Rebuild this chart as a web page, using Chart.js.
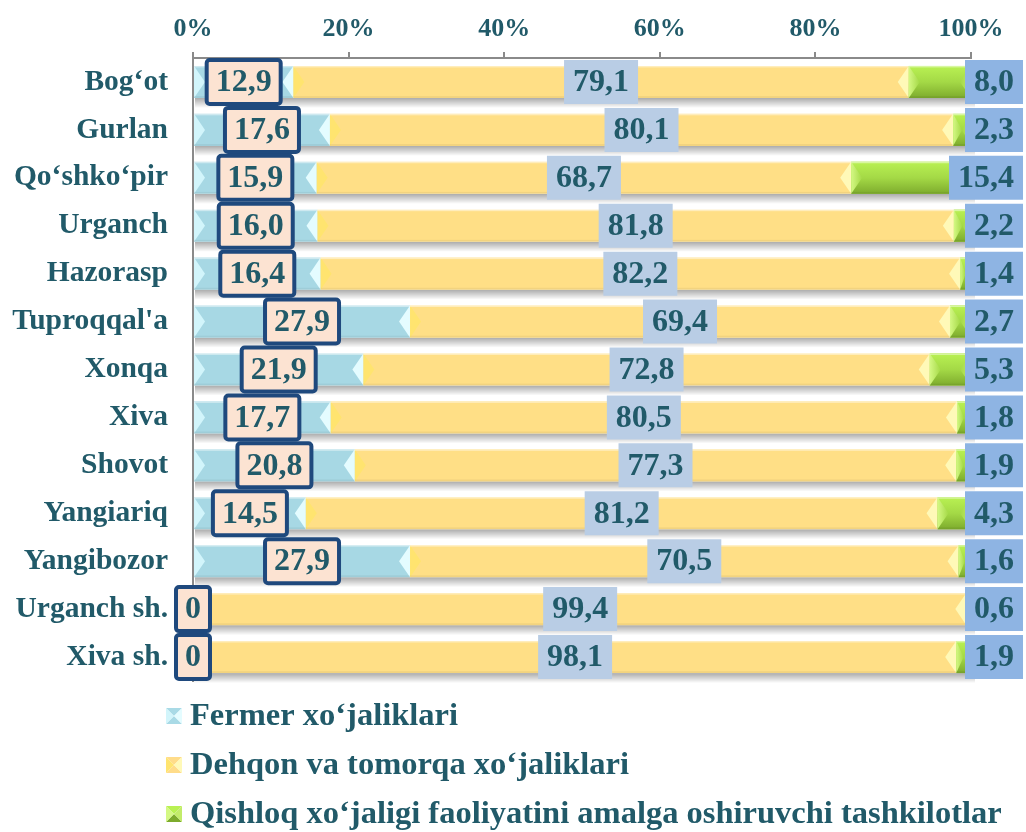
<!DOCTYPE html>
<html>
<head>
<meta charset="utf-8">
<script src="https://cdn.jsdelivr.net/npm/chart.js@4.4.1/dist/chart.umd.min.js"></script>
<style>
  html, body { margin: 0; padding: 0; background: #fff; }
  #wrap { width: 1026px; height: 832px; position: relative; }
</style>
</head>
<body>
<div id="wrap"><canvas id="chart"></canvas></div>
<script>
// Data
const categories = ['Bog‘ot', 'Gurlan', 'Qo‘shko‘pir', 'Urganch', 'Hazorasp', "Tuproqqal'a", 'Xonqa',
    'Xiva', 'Shovot', 'Yangiariq', 'Yangibozor', 'Urganch sh.', 'Xiva sh.'];
const fermer = [12.9, 17.6, 15.9, 16.0, 16.4, 27.9, 21.9, 17.7, 20.8, 14.5, 27.9, 0, 0];
const dehqon = [79.1, 80.1, 68.7, 81.8, 82.2, 69.4, 72.8, 80.5, 77.3, 81.2, 70.5, 99.4, 98.1];
const tashkilot = [8.0, 2.3, 15.4, 2.2, 1.4, 2.7, 5.3, 1.8, 1.9, 4.3, 1.6, 0.6, 1.9];
const seriesNames = ['Fermer xo‘jaliklari', 'Dehqon va tomorqa xo‘jaliklari',
    'Qishloq xo‘jaligi faoliyatini amalga oshiruvchi tashkilotlar'];
const tickStep = 20;

const FONT = '"Liberation Serif", "Times New Roman", serif';
const TEXT = '#215a69';
const AXIS = '#8a8a8a';

const palette = [
    { base: '#a7d8e4', left: '#d2f5fb', right: '#e4fcff', dark: '#a9dae6' },
    { base: '#ffdf86', left: '#ffe46f', right: '#fff9b8', dark: '#ffdc8a' },
    { base: '#a2d444', top: '#b9f153', mid: '#a4d946', bottom: '#7dab2d', left: '#d4f884', right: '#c2ec6a', dark: '#7dab2d' }
];
const labelFill = ['#fce3d2', '#b9cde5', '#8eb4e3'];

function fmt(v) {
    return v === 0 ? '0' : v.toFixed(1).replace('.', ',');
}

function tri(ctx, ax, ay, bx, by, cx, cy, fill) {
    ctx.beginPath();
    ctx.moveTo(ax, ay);
    ctx.lineTo(bx, by);
    ctx.lineTo(cx, cy);
    ctx.closePath();
    ctx.fillStyle = fill;
    ctx.fill();
}

// shadow under each bar + bevelled ends on every segment
const bevelPlugin = {
    id: 'bevel',
    beforeDatasetsDraw(chart) {
        const ctx = chart.ctx;
        const first = chart.getDatasetMeta(0);
        const last = chart.getDatasetMeta(chart.data.datasets.length - 1);
        ctx.save();
        first.data.forEach((bar, i) => {
            const a = bar.getProps(['base', 'y', 'height'], true);
            const b = last.data[i].getProps(['x'], true);
            const y1 = a.y + a.height / 2;
            const g = ctx.createLinearGradient(0, y1, 0, y1 + 10);
            g.addColorStop(0, 'rgba(0,0,0,0.33)');
            g.addColorStop(1, 'rgba(0,0,0,0)');
            ctx.fillStyle = g;
            ctx.fillRect(a.base + 1, y1, b.x - a.base + 3, 10);
        });
        ctx.restore();
    },
    afterDatasetsDraw(chart) {
        const ctx = chart.ctx;
        ctx.save();
        chart.data.datasets.forEach((ds, di) => {
            const pal = palette[di];
            chart.getDatasetMeta(di).data.forEach(bar => {
                const { x, base, y, height } = bar.getProps(['x', 'base', 'y', 'height'], true);
                const x0 = Math.min(x, base), x1 = Math.max(x, base);
                const w = x1 - x0;
                if (w <= 0.5) return;
                const y0 = y - height / 2, y1 = y + height / 2;
                if (pal.top) {
                    const g = ctx.createLinearGradient(0, y0, 0, y1);
                    g.addColorStop(0, pal.top);
                    g.addColorStop(0.5, pal.mid);
                    g.addColorStop(1, pal.bottom);
                    ctx.fillStyle = g;
                    ctx.fillRect(x0, y0, w, height);
                }
                const b = Math.min(11, w / 2);
                const gl = ctx.createLinearGradient(x0, 0, x0 + b, 0);
                gl.addColorStop(0, pal.left);
                gl.addColorStop(1, pal.top ? pal.mid : pal.left);
                tri(ctx, x0, y0, x0 + b, y, x0, y1, gl);
                const gr = ctx.createLinearGradient(x1, 0, x1 - b, 0);
                gr.addColorStop(0, pal.right);
                gr.addColorStop(1, pal.top ? pal.mid : pal.right);
                tri(ctx, x1, y0, x1 - b, y, x1, y1, gr);
                ctx.fillStyle = 'rgba(255,255,255,0.45)';
                ctx.fillRect(x0, y0, w, 1.5);
                ctx.fillStyle = 'rgba(0,0,0,0.05)';
                ctx.fillRect(x0, y1 - 2, w, 2);
            });
        });
        ctx.restore();
    }
};

// value labels in boxes
const labelPlugin = {
    id: 'segLabels',
    afterDatasetsDraw(chart) {
        const ctx = chart.ctx;
        ctx.save();
        ctx.font = 'bold 32px ' + FONT;
        ctx.textAlign = 'center';
        ctx.textBaseline = 'middle';
        chart.data.datasets.forEach((ds, di) => {
            chart.getDatasetMeta(di).data.forEach((bar, i) => {
                const { x, base, y } = bar.getProps(['x', 'base', 'y'], true);
                const txt = fmt(ds.data[i]);
                const w = ctx.measureText(txt).width + 18;
                const h = 44;
                let cx;
                if (di === 2) {
                    const left = Math.min(x - 6, chart.width - 3 - w);
                    cx = left + w / 2;
                } else {
                    cx = (x + base) / 2;
                }
                ctx.beginPath();
                if (di === 0) {
                    ctx.roundRect(cx - w / 2, y - h / 2, w, h, 3);
                    ctx.fillStyle = labelFill[di];
                    ctx.fill();
                    ctx.lineWidth = 4;
                    ctx.strokeStyle = '#1f497d';
                    ctx.stroke();
                } else {
                    ctx.rect(cx - w / 2, y - h / 2, w, h);
                    ctx.fillStyle = labelFill[di];
                    ctx.fill();
                }
                ctx.fillStyle = TEXT;
                ctx.fillText(txt, cx, y + 1);
            });
        });
        ctx.restore();
    }
};

// vertical legend under the plot
const legendPlugin = {
    id: 'sideLegend',
    afterDraw(chart) {
        const ctx = chart.ctx;
        const rowY = [716, 765, 814];
        ctx.save();
        ctx.font = 'bold 32.5px ' + FONT;
        ctx.textAlign = 'left';
        ctx.textBaseline = 'middle';
        seriesNames.forEach((name, i) => {
            const pal = palette[i];
            const cy = rowY[i], x0 = 166, s = 16, y0 = cy - s / 2;
            const mx = x0 + s / 2;
            tri(ctx, x0, y0, x0 + s, y0, mx, cy, pal.top || pal.dark);
            tri(ctx, x0, y0 + s, x0 + s, y0 + s, mx, cy, pal.bottom || pal.dark);
            tri(ctx, x0, y0, x0, y0 + s, mx, cy, pal.left);
            tri(ctx, x0 + s, y0, x0 + s, y0 + s, mx, cy, pal.right);
            ctx.fillStyle = TEXT;
            ctx.fillText(name, 190, cy + 1);
        });
        ctx.restore();
    }
};

const ctx = document.getElementById('chart').getContext('2d');
new Chart(ctx, {
    type: 'bar',
    data: {
        labels: categories,
        datasets: [fermer, dehqon, tashkilot].map((d, i) => ({
            label: seriesNames[i],
            data: d,
            backgroundColor: palette[i].base,
            borderWidth: 0,
            barPercentage: 0.67,
            categoryPercentage: 1.0
        }))
    },
    options: {
        indexAxis: 'y',
        responsive: true,
        maintainAspectRatio: false,
        animation: false,
        layout: { padding: { left: 0, top: 0, right: 55, bottom: 151 } },
        scales: {
            x: {
                position: 'top',
                stacked: true,
                min: 0,
                max: 100,
                afterFit: s => { s.height = 58; },
                ticks: {
                    stepSize: tickStep,
                    padding: 7,
                    color: TEXT,
                    font: { family: FONT, size: 26, weight: 'bold' },
                    callback: v => v + '%'
                },
                grid: { drawOnChartArea: false, drawTicks: true, tickLength: 6, color: AXIS, lineWidth: 2 },
                border: { display: true, color: AXIS, width: 2 }
            },
            y: {
                stacked: true,
                afterFit: s => { s.width = 193; },
                ticks: {
                    padding: 25,
                    color: TEXT,
                    font: { family: FONT, size: 29.5, weight: 'bold' }
                },
                grid: { display: false, drawTicks: false },
                border: { display: true, color: AXIS, width: 2 }
            }
        },
        plugins: {
            legend: { display: false },
            tooltip: { enabled: false }
        }
    },
    plugins: [bevelPlugin, labelPlugin, legendPlugin]
});
</script>
</body>
</html>
